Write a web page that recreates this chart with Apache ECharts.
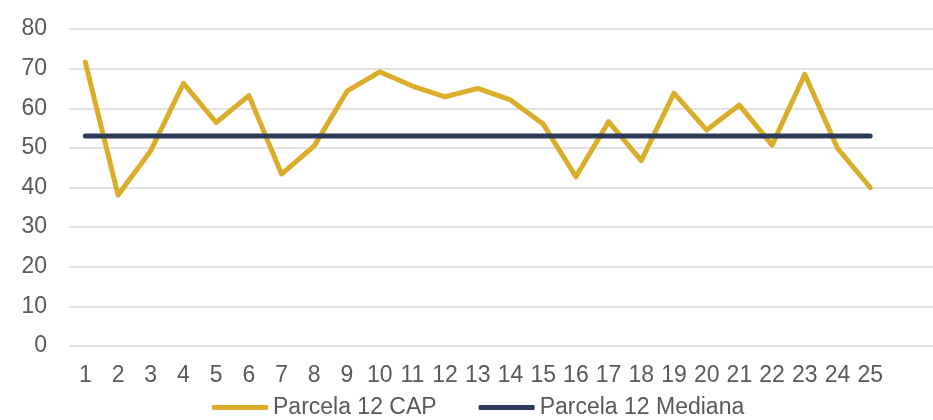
<!DOCTYPE html>
<html>
<head>
<meta charset="utf-8">
<script src="https://cdn.jsdelivr.net/npm/echarts@6/dist/echarts.min.js"></script>
<style>html,body{margin:0;padding:0;background:#fff;}#c{width:933px;height:420px;}</style>
</head>
<body>
<div id="c"></div>
<script>
var categories = [1,2,3,4,5,6,7,8,9,10,11,12,13,14,15,16,17,18,19,20,21,22,23,24,25];
var capValues = [71.6,38.1,49.3,66.3,56.4,63.2,43.4,50.5,64.3,69.2,65.6,62.9,65.0,62.1,56.0,42.7,56.6,46.8,63.8,54.5,60.8,50.7,68.6,49.9,40.0];
var medianValues = [53,53,53,53,53,53,53,53,53,53,53,53,53,53,53,53,53,53,53,53,53,53,53,53,53];
var yTicks = [0,10,20,30,40,50,60,70,80];

function pairs(vals){ return categories.map(function(c,i){ return [c, vals[i]]; }); }

var chart = echarts.init(document.getElementById('c'), null, {renderer:'canvas'});
var font = 'Liberation Sans, Arial, sans-serif';
chart.setOption({
  animation:false,
  textStyle:{fontFamily:font},
  grid:{left:69, right:0, top:29, bottom:74, containLabel:false},
  xAxis:{
    type:'value', min:0.5, max:26.92,
    axisLine:{show:false}, axisTick:{show:false}, splitLine:{show:false},
    axisLabel:{customValues:categories, color:'#595959', fontSize:23, fontFamily:font, margin:18}
  },
  yAxis:{
    type:'value', min:yTicks[0], max:yTicks[yTicks.length-1], interval:10,
    axisLine:{show:false}, axisTick:{show:false},
    splitLine:{lineStyle:{color:'#d9d9d9', width:1.5}},
    axisLabel:{color:'#595959', fontSize:23, fontFamily:font, margin:22}
  },
  legend:{
    left:207, top:391, itemWidth:56, itemHeight:5, itemGap:42,
    icon:'roundRect',
    textStyle:{color:'#595959', fontSize:23, fontFamily:font},
    data:['Parcela 12 CAP','Parcela 12 Mediana']
  },
  series:[
    {name:'Parcela 12 CAP', type:'line', data:pairs(capValues), showSymbol:false, symbol:'none',
     lineStyle:{color:'#DAAE2B', width:5, cap:'round', join:'round'}, itemStyle:{color:'#DAAE2B'}, z:2},
    {name:'Parcela 12 Mediana', type:'line', data:pairs(medianValues), showSymbol:false, symbol:'none',
     lineStyle:{color:'#2B3A58', width:5, cap:'round'}, itemStyle:{color:'#2B3A58'}, z:3}
  ]
});
</script>
</body>
</html>
